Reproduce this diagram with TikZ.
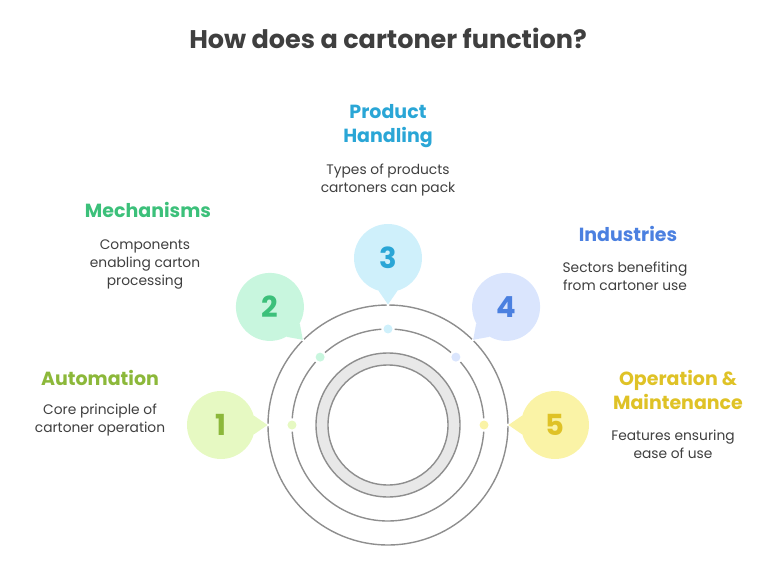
\documentclass[tikz,border=0pt]{standalone}
\usepackage{fontspec}
\setmainfont{Poppins}
\usetikzlibrary{positioning}

\definecolor{ringline}{HTML}{8E8E8E}
\definecolor{ringfill}{HTML}{E8E8E8}
\definecolor{inkgray}{HTML}{3F3F3F}
\definecolor{lime}{HTML}{8CB83A}
\definecolor{limefill}{HTML}{E6F9C2}
\definecolor{mint}{HTML}{3CC07A}
\definecolor{mintfill}{HTML}{C8F6DE}
\definecolor{sky}{HTML}{2AA6D6}
\definecolor{skyfill}{HTML}{CFF0FB}
\definecolor{peri}{HTML}{4B80E0}
\definecolor{perifill}{HTML}{DAE5FD}
\definecolor{sun}{HTML}{DFC226}
\definecolor{sunfill}{HTML}{FAF3A6}

\begin{document}
\begin{tikzpicture}[x=1pt, y=1pt,
    ring/.style={draw=ringline, line width=1.4pt},
    bubble/.style={circle, minimum size=68pt, inner sep=0pt, font=\fontsize{29}{29}\selectfont\bfseries},
    dotmark/.style={circle, minimum size=9pt, inner sep=0pt},
    head/.style={align=center, font=\fontsize{19}{24}\selectfont\bfseries},
    desc/.style={align=center, text=inkgray, font=\fontsize{13.8}{18}\selectfont}]
    \useasboundingbox (-388,-153) rectangle (382,425);

    % Rings
    \coordinate (hub) at (0,0);
    \filldraw[ring, fill=ringfill, even odd rule] (hub) circle (72) (hub) circle (60);
    \foreach \s/\e in {0.6/44.4, 45.6/89.4, 90.6/134.4, 135.6/179.4, 180.6/359.4}
        \draw[ring] (hub) ++(\s:120) arc[start angle=\s, end angle=\e, radius=120];
    \foreach \s/\e in {4/41, 49/86, 94/131, 139/176, 184/356}
        \draw[ring] (hub) ++(\s:96) arc[start angle=\s, end angle=\e, radius=96];

    % Nodes
    \foreach \i/\a/\c in {1/180/lime, 2/135/mint, 3/90/sky, 4/45/peri, 5/0/sun} {
        \pgfmathsetmacro\lft{\a+164}
        \pgfmathsetmacro\rgt{\a+196}
        \node[dotmark, fill=\c fill] (d\i) at (\a:96) {};
        \coordinate (t\i) at (\a:120.5);
        \node[bubble, fill=\c fill, text=\c] (b\i) at (\a:167) {\i};
        \fill[\c fill] (b\i.\lft) -- (t\i) -- (b\i.\rgt) -- cycle;
    }

    % Labels
    \node[font=\fontsize{25.5}{26}\selectfont\bfseries, text=inkgray] (title) at (0,387) {How does a cartoner function?};
    \node[head, text=lime] (h1) at (-288,47) {Automation};
    \node[desc] (p1) at (-288,5) {Core principle of\\cartoner operation};
    \node[head, text=mint] (h2) at (-240,215) {Mechanisms};
    \node[desc] (p2) at (-243,161) {Components\\enabling carton\\processing};
    \node[head, text=sky] (h3) at (0,299) {Product\\Handling};
    \node[desc] (p3) at (0,245) {Types of products\\cartoners can pack};
    \node[head, text=peri] (h4) at (240,191) {Industries};
    \node[desc] (p4) at (237,148.5) {Sectors benefiting\\from cartoner use};
    \node[head, text=sun] (h5) at (290,35) {Operation \&\\Maintenance};
    \node[desc] (p5) at (285,-19.5) {Features ensuring\\ease of use};
\end{tikzpicture}
\end{document}
